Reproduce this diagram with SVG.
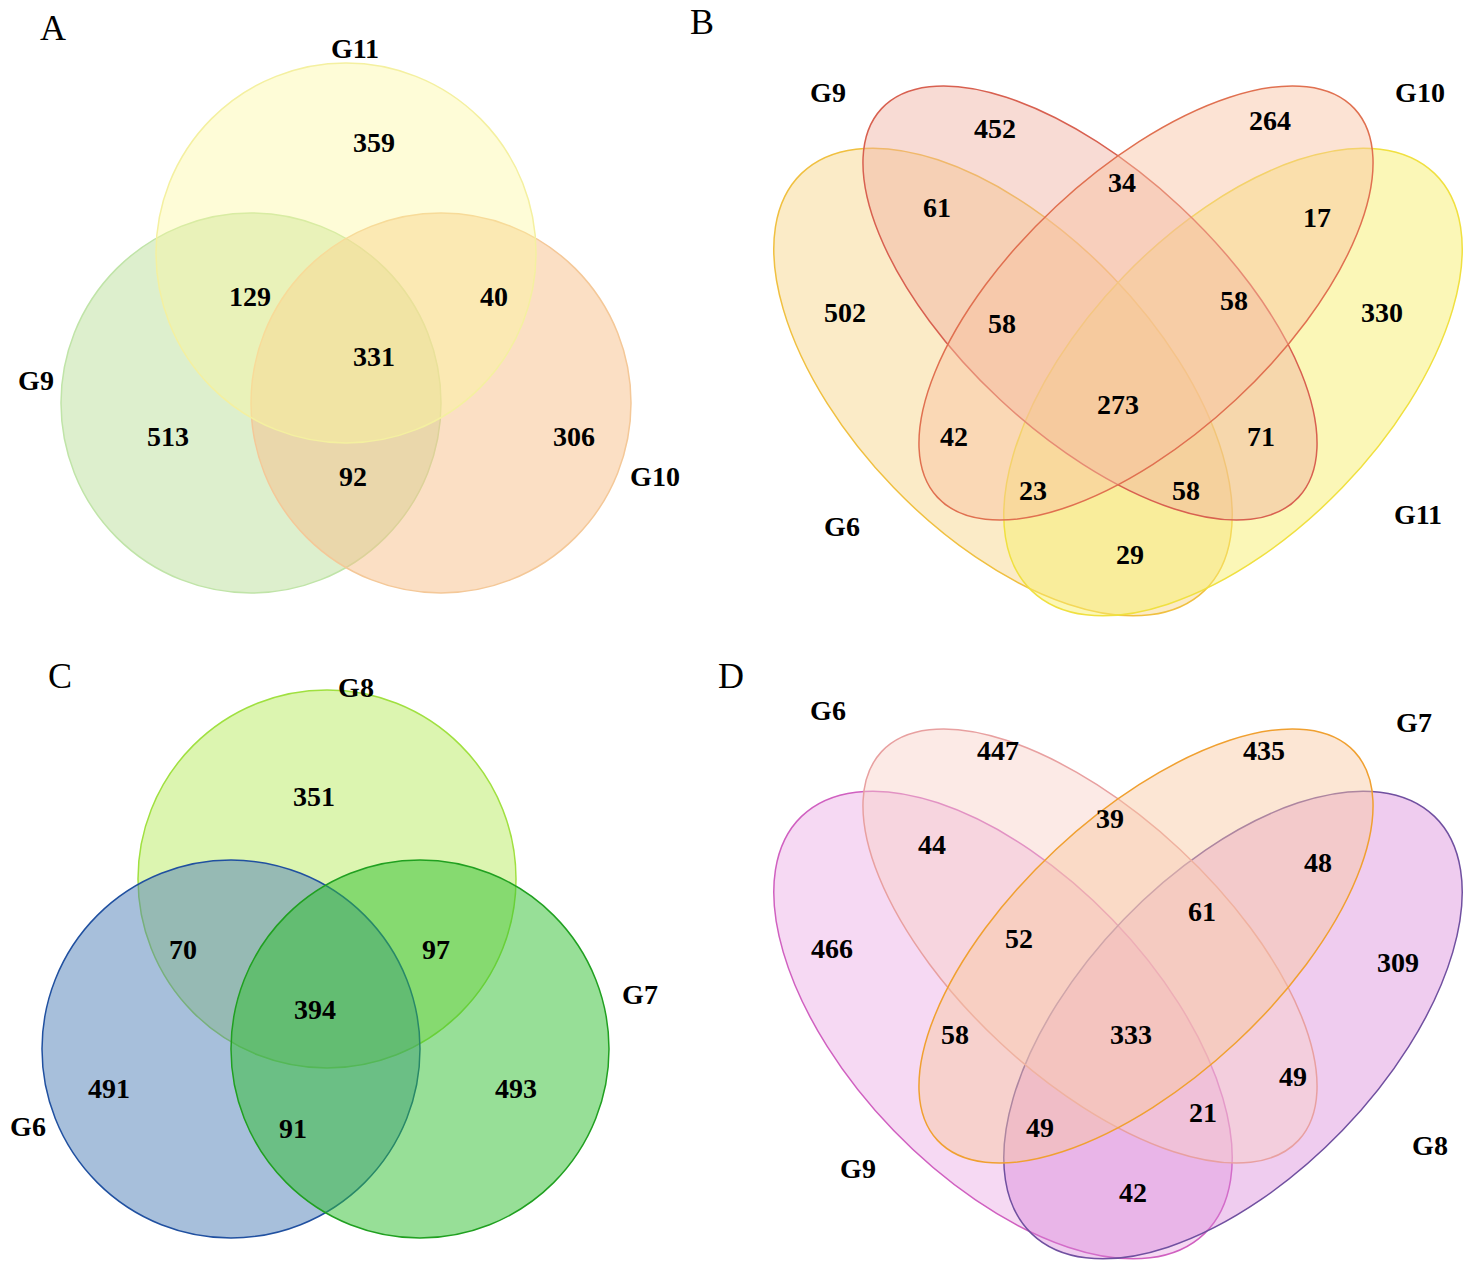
<svg xmlns="http://www.w3.org/2000/svg" width="1477" height="1261" viewBox="0 0 1477 1261">
<style>
.n{font-family:"Liberation Serif",serif;font-weight:bold;font-size:28px;text-anchor:middle}
.p{font-family:"Liberation Serif",serif;font-size:36px}
.s{stroke-width:1.5}
</style>
<rect width="1477" height="1261" fill="#fff"/>
<g id="panelA">
<text class="p" x="40" y="40">A</text>
<circle id="A_G9" class="s" cx="251" cy="403" r="190" fill="#b4dc90" fill-opacity="0.45" stroke="#c0e4a8"/>
<circle id="A_G10" class="s" cx="441" cy="403" r="190" fill="#f8c08a" fill-opacity="0.5" stroke="#f4c898"/>
<circle id="A_G11" class="s" cx="346" cy="253" r="190" fill="#fcf89a" fill-opacity="0.4" stroke="#f4f0a0"/>
<text class="n" x="355" y="58">G11</text><text class="n" x="36" y="390">G9</text><text class="n" x="655" y="486">G10</text>
<text class="n" x="374" y="152">359</text><text class="n" x="250" y="306">129</text><text class="n" x="494" y="306">40</text>
<text class="n" x="374" y="366">331</text><text class="n" x="168" y="446">513</text><text class="n" x="574" y="446">306</text><text class="n" x="353" y="486">92</text>
</g>
<g id="panelB">
<text class="p" x="690" y="34">B</text>
<ellipse id="B_G6" class="s" cx="1003" cy="382" rx="290" ry="152" transform="rotate(46 1003 382)" fill="#f8d890" fill-opacity="0.5" stroke="#f0c040"/>
<ellipse id="B_G11" class="s" cx="1233" cy="382" rx="290" ry="152" transform="rotate(-46 1233 382)" fill="#f8f070" fill-opacity="0.5" stroke="#f0e040"/>
<ellipse id="B_G9" class="s" cx="1090" cy="303" rx="285" ry="132" transform="rotate(43 1090 303)" fill="#f0b0a0" fill-opacity="0.45" stroke="#d86050"/>
<ellipse id="B_G10" class="s" cx="1146" cy="303" rx="285" ry="132" transform="rotate(-43 1146 303)" fill="#f8c0a0" fill-opacity="0.45" stroke="#e07050"/>
<text class="n" x="828" y="102">G9</text><text class="n" x="1420" y="102">G10</text><text class="n" x="842" y="536">G6</text><text class="n" x="1418" y="524">G11</text>
<text class="n" x="995" y="138">452</text><text class="n" x="1270" y="130">264</text><text class="n" x="1122" y="192">34</text>
<text class="n" x="937" y="217">61</text><text class="n" x="1317" y="227">17</text><text class="n" x="845" y="322">502</text>
<text class="n" x="1002" y="333">58</text><text class="n" x="1234" y="310">58</text><text class="n" x="1382" y="322">330</text>
<text class="n" x="1118" y="414">273</text><text class="n" x="954" y="446">42</text><text class="n" x="1261" y="446">71</text>
<text class="n" x="1033" y="500">23</text><text class="n" x="1186" y="500">58</text><text class="n" x="1130" y="564">29</text>
</g>
<g id="panelC">
<text class="p" x="48" y="688">C</text>
<circle id="C_G8" class="s" cx="327" cy="879" r="189" fill="#c0ec70" fill-opacity="0.55" stroke="#a0e040"/>
<circle id="C_G6" class="s" cx="231" cy="1049" r="189" fill="#5080b8" fill-opacity="0.5" stroke="#2050a0"/>
<circle id="C_G7" class="s" cx="420" cy="1049" r="189" fill="#30c030" fill-opacity="0.5" stroke="#20a020"/>
<text class="n" x="356" y="697">G8</text><text class="n" x="28" y="1136">G6</text><text class="n" x="640" y="1004">G7</text>
<text class="n" x="314" y="806">351</text><text class="n" x="183" y="959">70</text><text class="n" x="436" y="959">97</text>
<text class="n" x="315" y="1019">394</text><text class="n" x="109" y="1098">491</text><text class="n" x="516" y="1098">493</text><text class="n" x="293" y="1138">91</text>
</g>
<g id="panelD">
<text class="p" x="718" y="688">D</text>
<ellipse id="D_G9" class="s" cx="1003" cy="1025" rx="290" ry="152" transform="rotate(46 1003 1025)" fill="#e8a0e0" fill-opacity="0.4" stroke="#d060c0"/>
<ellipse id="D_G8" class="s" cx="1233" cy="1025" rx="290" ry="152" transform="rotate(-46 1233 1025)" fill="#d880d8" fill-opacity="0.4" stroke="#7050a0"/>
<ellipse id="D_G6" class="s" cx="1090" cy="946" rx="285" ry="132" transform="rotate(43 1090 946)" fill="#f8d0c8" fill-opacity="0.45" stroke="#e8a0a0"/>
<ellipse id="D_G7" class="s" cx="1146" cy="946" rx="285" ry="132" transform="rotate(-43 1146 946)" fill="#f8c8a0" fill-opacity="0.45" stroke="#f0a030"/>
<text class="n" x="828" y="720">G6</text><text class="n" x="1414" y="732">G7</text><text class="n" x="858" y="1178">G9</text><text class="n" x="1430" y="1155">G8</text>
<text class="n" x="998" y="760">447</text><text class="n" x="1264" y="760">435</text><text class="n" x="1110" y="828">39</text>
<text class="n" x="932" y="854">44</text><text class="n" x="1318" y="872">48</text><text class="n" x="832" y="958">466</text>
<text class="n" x="1019" y="948">52</text><text class="n" x="1202" y="921">61</text><text class="n" x="1398" y="972">309</text>
<text class="n" x="1131" y="1044">333</text><text class="n" x="955" y="1044">58</text><text class="n" x="1293" y="1086">49</text>
<text class="n" x="1040" y="1137">49</text><text class="n" x="1203" y="1122">21</text><text class="n" x="1133" y="1202">42</text>
</g>
<g id="connectors"></g>
</svg>
